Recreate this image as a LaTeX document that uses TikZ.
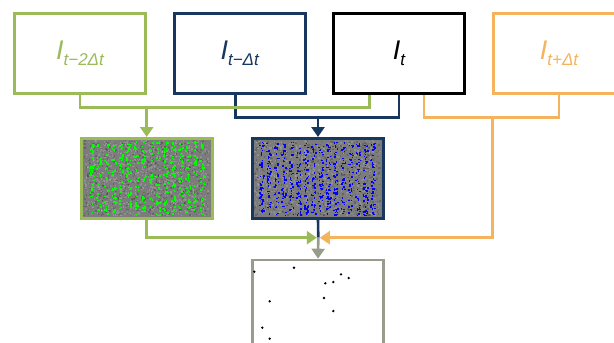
\documentclass[tikz,border=0pt]{standalone}
\usepackage{fontspec}
\setmainfont{Liberation Sans}
\usetikzlibrary{arrows.meta}
\definecolor{mygreen}{RGB}{155, 187, 89}
\definecolor{mynavy}{RGB}{23, 55, 94}
\definecolor{myorange}{RGB}{244, 180, 94}
\definecolor{mygray}{RGB}{152, 156, 140}
\definecolor{mynoise}{RGB}{124, 124, 124}
\tikzset{every picture/.style={line width=0.75pt}}
\newcommand{\frm}[1]{{\fontsize{27}{27}\selectfont\itshape I}\raisebox{-5.5pt}{\fontsize{17}{17}\selectfont\itshape #1}}

\begin{document}
\begin{tikzpicture}[x=1pt,y=-1pt,
  frame/.style={draw, line width=2.6pt, minimum width=131pt, minimum height=80pt, inner sep=0pt},
  imgbox/.style={draw, line width=2.6pt, fill=mynoise, minimum width=131pt, minimum height=80pt},
  link/.style={line width=2.6pt},
  tip/.style={-{Triangle[width=13pt,length=10pt]}}]
\useasboundingbox (0,0) rectangle (614,343);

%Shape: Rectangle [frames]
\node [frame, draw=mygreen, text=mygreen] (fA) at (80,53.3) {\frm{t−2Δt}};
\node [frame, draw=mynavy, text=mynavy] (fB) at (239.7,53.3) {\frm{t−Δt}};
\node [frame, draw=black, line width=3pt] (fC) at (399,53.3) {\frm{t}};
\node [frame, draw=myorange, text=myorange] (fD) at (559,53.3) {\frm{t+Δt}};

%Shape: Rectangle [images]
\node [imgbox, draw=mygreen] (imgA) at (146.7,178.3) {};
\node [imgbox, draw=mynavy] (imgB) at (318,178.3) {};
\pgfmathsetseed{11}
% noise
\foreach \i in {1,...,700} {
  \pgfmathsetmacro{\px}{83+126*rnd}
  \pgfmathsetmacro{\py}{140+75*rnd}
  \fill [black, opacity=0.18] (\px,\py) rectangle ++(1.4,1.4);
  \pgfmathsetmacro{\qx}{254+126*rnd}
  \pgfmathsetmacro{\qy}{140+75*rnd}
  \fill [black, opacity=0.18] (\qx,\qy) rectangle ++(1.4,1.4);
  \pgfmathsetmacro{\rx}{83+126*rnd}
  \pgfmathsetmacro{\ry}{140+75*rnd}
  \fill [white, opacity=0.15] (\rx,\ry) rectangle ++(1.4,1.4);
  \pgfmathsetmacro{\sx}{254+126*rnd}
  \pgfmathsetmacro{\sy}{140+75*rnd}
  \fill [white, opacity=0.15] (\sx,\sy) rectangle ++(1.4,1.4);
}
% detections
\foreach \i in {1,...,700} {
  \pgfmathsetmacro{\px}{89+7.4*int(16*rnd)+4.5*rnd}
  \pgfmathsetmacro{\py}{141+74*rnd}
  \fill [green] (\px,\py) rectangle ++(1.5,1.5);
  \pgfmathsetmacro{\qx}{259+7.4*int(16*rnd)+4.5*rnd}
  \pgfmathsetmacro{\qy}{141+74*rnd}
  \fill [blue] (\qx,\qy) rectangle ++(1.5,1.5);
}
\node [imgbox, fill=none, draw=mygreen] at (imgA) {};
\node [imgbox, fill=none, draw=mynavy] at (imgB) {};

%Shape: Rectangle [result]
\node [draw=mygray, line width=2.6pt, minimum width=131pt, minimum height=86pt] (res) at (318,303) {};
\foreach \p in {(254.3,271.7),(294,267.7),(341,274.3),(348.7,278),(333.3,282),(325.3,283.3),(269.7,301.3),(324,298),(333.3,311),(262.3,327.7),(269.7,338.7)}
  \fill \p circle (1.3);

% junctions
\coordinate (gj) at (146.7,107.7);
\coordinate (nj) at (318,117.3);
\coordinate (oj) at (492.3,117.3);
\coordinate (meet) at (318.3,237.7);

%Straight Lines [navy]
\draw [link, mynavy] ([xshift=-4pt]fB.south) |- (nj) -| (fC.south);
\draw [link, mynavy, tip] (nj) -- (imgB.north);
\draw [link, mynavy] (imgB.south) -- (meet);
%Straight Lines [green]
\draw [link, mygreen] (fA.south) |- (gj) -| ([xshift=-29.7pt]fC.south);
\draw [link, mygreen, tip] (gj) -- (imgA.north);
%Straight Lines [orange]
\draw [link, myorange] (fD.south) |- (oj) -| ([xshift=25pt]fC.south);
\draw [link, myorange, tip] (oj) |- ([xshift=1.5pt]meet);
%Straight Lines [green to meet]
\draw [link, mygreen, tip] (imgA.south) |- ([xshift=-1.5pt]meet);
%Straight Lines [gray]
\draw [link, mygray, tip] (meet) -- (res.north);

\end{tikzpicture}
\end{document}
